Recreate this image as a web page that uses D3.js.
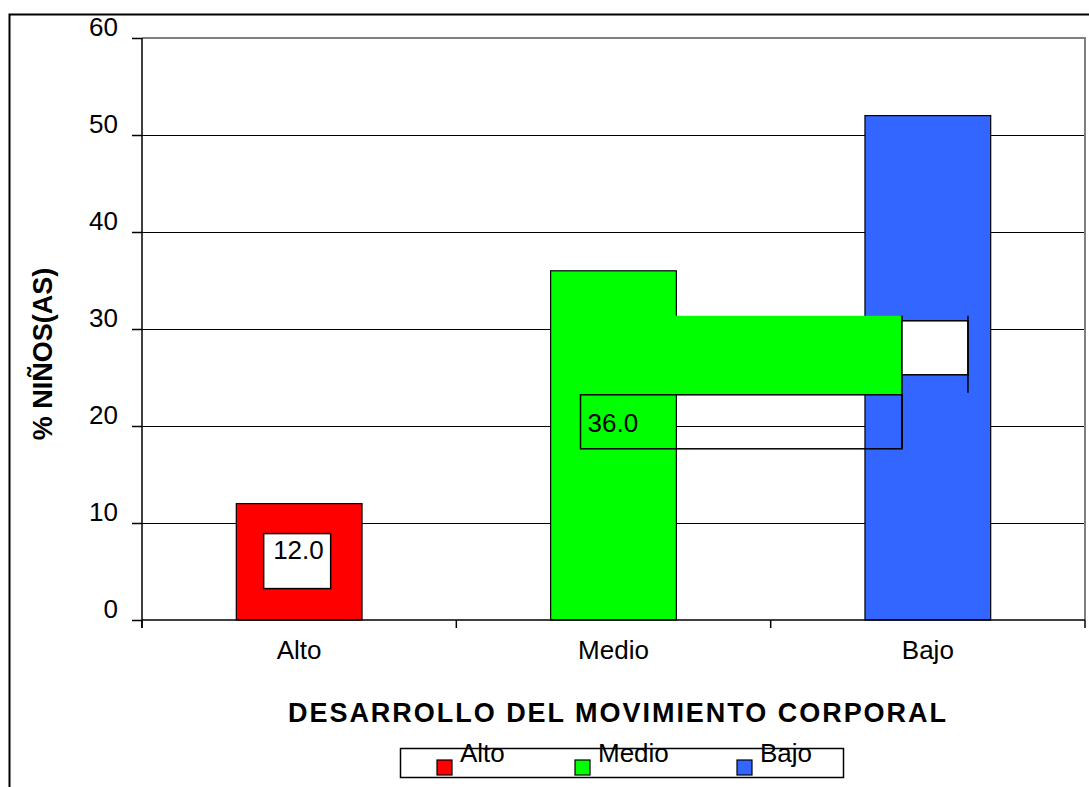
<!DOCTYPE html>
<html>
<head>
<meta charset="utf-8">
<script src="https://cdn.jsdelivr.net/npm/d3@7"></script>
<style>
  body { margin: 0; background: #fff; }
  text { font-family: "Liberation Sans", Arial, sans-serif; fill: #000; }
</style>
</head>
<body>
<div id="chart"></div>
<script>
// Data
var categories = ["Alto", "Medio", "Bajo"];
var values = [12.0, 36.0, 52.0];
var colors = ["#FF0000", "#00FF00", "#3366FF"];
var yTicks = [0, 10, 20, 30, 40, 50, 60];

var svgWidth = 1089;
var svgHeight = 787;

var margin = { top: 38, right: 4, bottom: 167, left: 142 };
var chartWidth = svgWidth - margin.left - margin.right;
var chartHeight = svgHeight - margin.top - margin.bottom;

var svg = d3.select("#chart")
    .append("svg")
    .attr("width", svgWidth)
    .attr("height", svgHeight);

// outer frame (runs off the right/bottom edge like the screenshot)
svg.append("rect")
    .attr("x", 9.5)
    .attr("y", 14.5)
    .attr("width", 1100)
    .attr("height", 800)
    .attr("fill", "none")
    .attr("stroke", "#000")
    .attr("stroke-width", 2);

var chartGroup = svg.append("g")
    .attr("transform", `translate(${margin.left}, ${margin.top})`);

// scales
var xScale = d3.scaleBand()
    .domain(categories)
    .range([0, chartWidth])
    .padding(0);

var yScale = d3.scaleLinear()
    .domain([0, 60])
    .range([chartHeight, 0]);

var barWidth = xScale.step() * 0.4;

// gridlines
chartGroup.append("g")
    .selectAll("line")
    .data(yTicks.filter(d => d > 0 && d < 60))
    .enter()
    .append("line")
    .attr("x1", 0)
    .attr("x2", chartWidth)
    .attr("y1", d => Math.round(yScale(d)) + 0.5)
    .attr("y2", d => Math.round(yScale(d)) + 0.5)
    .attr("stroke", "#000")
    .attr("stroke-width", 1);

// plot area border (top + right, grey)
chartGroup.append("path")
    .attr("d", `M0,${yScale(60)}H${chartWidth}V${chartHeight}`)
    .attr("fill", "none")
    .attr("stroke", "#808080")
    .attr("stroke-width", 2);

// bars
chartGroup.selectAll(".bar")
    .data(categories)
    .enter()
    .append("rect")
    .attr("class", "bar")
    .attr("x", d => xScale(d) + (xScale.step() - barWidth) / 2)
    .attr("y", (d, i) => yScale(values[i]))
    .attr("width", barWidth)
    .attr("height", (d, i) => chartHeight - yScale(values[i]))
    .attr("fill", (d, i) => colors[i])
    .attr("stroke", "#000")
    .attr("stroke-width", 1.2);

// y axis
var leftAxis = d3.axisLeft(yScale)
    .tickValues(yTicks)
    .tickSize(10)
    .tickPadding(14)
    .tickFormat(d3.format("d"));

var yAxis = chartGroup.append("g")
    .call(leftAxis);
yAxis.select(".domain").remove();
yAxis.selectAll("line").attr("stroke", "#000").attr("stroke-width", 1.5);
yAxis.selectAll("text")
    .attr("dy", "0")
    .attr("y", -3)
    .style("font-size", "26px")
    .style("font-family", "'Liberation Sans', Arial, sans-serif");

chartGroup.append("line")
    .attr("x1", 0).attr("x2", 0)
    .attr("y1", yScale(60))
    .attr("y2", chartHeight + 8)
    .attr("stroke", "#000")
    .attr("stroke-width", 1.5);

// x axis
chartGroup.append("line")
    .attr("x1", 0).attr("x2", chartWidth)
    .attr("y1", chartHeight).attr("y2", chartHeight)
    .attr("stroke", "#000")
    .attr("stroke-width", 1.5);

chartGroup.append("g")
    .selectAll("line")
    .data(d3.range(categories.length + 1))
    .enter()
    .append("line")
    .attr("x1", i => i * xScale.step())
    .attr("x2", i => i * xScale.step())
    .attr("y1", chartHeight)
    .attr("y2", chartHeight + 8)
    .attr("stroke", "#000")
    .attr("stroke-width", 1.5);

chartGroup.append("g")
    .selectAll("text")
    .data(categories)
    .enter()
    .append("text")
    .attr("x", d => xScale(d) + xScale.bandwidth() / 2)
    .attr("y", chartHeight + 39)
    .attr("text-anchor", "middle")
    .style("font-size", "26px")
    .text(d => d);

// value labels (as the source renders them, boxes and all)
var xc = i => xScale(categories[i]) + xScale.bandwidth() / 2;

// Alto: white box inside the bar
chartGroup.append("rect")
    .attr("x", xc(0) - 35.5)
    .attr("y", yScale(values[0]) + 30)
    .attr("width", 67)
    .attr("height", 55)
    .attr("fill", "#fff")
    .attr("stroke", "#000")
    .attr("stroke-width", 1.5);
chartGroup.append("text")
    .attr("x", xc(0) - 26)
    .attr("y", yScale(values[0]) + 55)
    .style("font-size", "26px")
    .text(d3.format(".1f")(values[0]));

// Medio: green smear + outlined label box
var medLeft = xc(1) - 33;
var medRight = xScale("Bajo") + (xScale.step() - barWidth) / 2 + 37;
var medTop = yScale(values[1]) + 124;
chartGroup.append("rect")
    .attr("x", medLeft)
    .attr("y", medTop - 79)
    .attr("width", medRight - medLeft)
    .attr("height", 79)
    .attr("fill", colors[1]);
chartGroup.append("line")
    .attr("x1", medRight).attr("x2", medRight)
    .attr("y1", medTop - 79).attr("y2", medTop + 54)
    .attr("stroke", "#000")
    .attr("stroke-width", 1.5);
chartGroup.append("rect")
    .attr("x", medLeft)
    .attr("y", medTop)
    .attr("width", medRight - medLeft)
    .attr("height", 54)
    .attr("fill", "none")
    .attr("stroke", "#000")
    .attr("stroke-width", 1.5);
chartGroup.append("text")
    .attr("x", medLeft + 7)
    .attr("y", medTop + 37)
    .style("font-size", "26px")
    .text(d3.format(".1f")(values[1]));

// Bajo: leftover white label box
chartGroup.append("rect")
    .attr("x", medRight)
    .attr("y", medTop - 74)
    .attr("width", 66)
    .attr("height", 54)
    .attr("fill", "#fff")
    .attr("stroke", "#000")
    .attr("stroke-width", 1.5);
chartGroup.append("line")
    .attr("x1", medRight + 66).attr("x2", medRight + 66)
    .attr("y1", medTop - 79).attr("y2", medTop - 2)
    .attr("stroke", "#000")
    .attr("stroke-width", 1.5);

// axis titles
svg.append("text")
    .attr("transform", `translate(52, 354) rotate(-90)`)
    .attr("text-anchor", "middle")
    .style("font-size", "27px")
    .style("font-weight", "bold")
    .text("% NIÑOS(AS)");

svg.append("text")
    .attr("x", 617)
    .attr("y", 722)
    .attr("text-anchor", "middle")
    .attr("textLength", 658)
    .attr("lengthAdjust", "spacing")
    .style("font-size", "27px")
    .style("font-weight", "bold")
    .text("DESARROLLO DEL MOVIMIENTO CORPORAL");

// legend
var legend = svg.append("g");
legend.append("rect")
    .attr("x", 400.5)
    .attr("y", 748.5)
    .attr("width", 443)
    .attr("height", 29)
    .attr("fill", "#fff")
    .attr("stroke", "#000")
    .attr("stroke-width", 1.5);

var legendX = [437, 575, 737];
var items = legend.selectAll(".item")
    .data(categories)
    .enter()
    .append("g")
    .attr("transform", (d, i) => `translate(${legendX[i]}, 760)`);
items.append("rect")
    .attr("width", 15)
    .attr("height", 15)
    .attr("fill", (d, i) => colors[i])
    .attr("stroke", "#000")
    .attr("stroke-width", 1.2);
items.append("text")
    .attr("x", 23)
    .attr("y", 2)
    .style("font-size", "26px")
    .text(d => d);
</script>
</body>
</html>
